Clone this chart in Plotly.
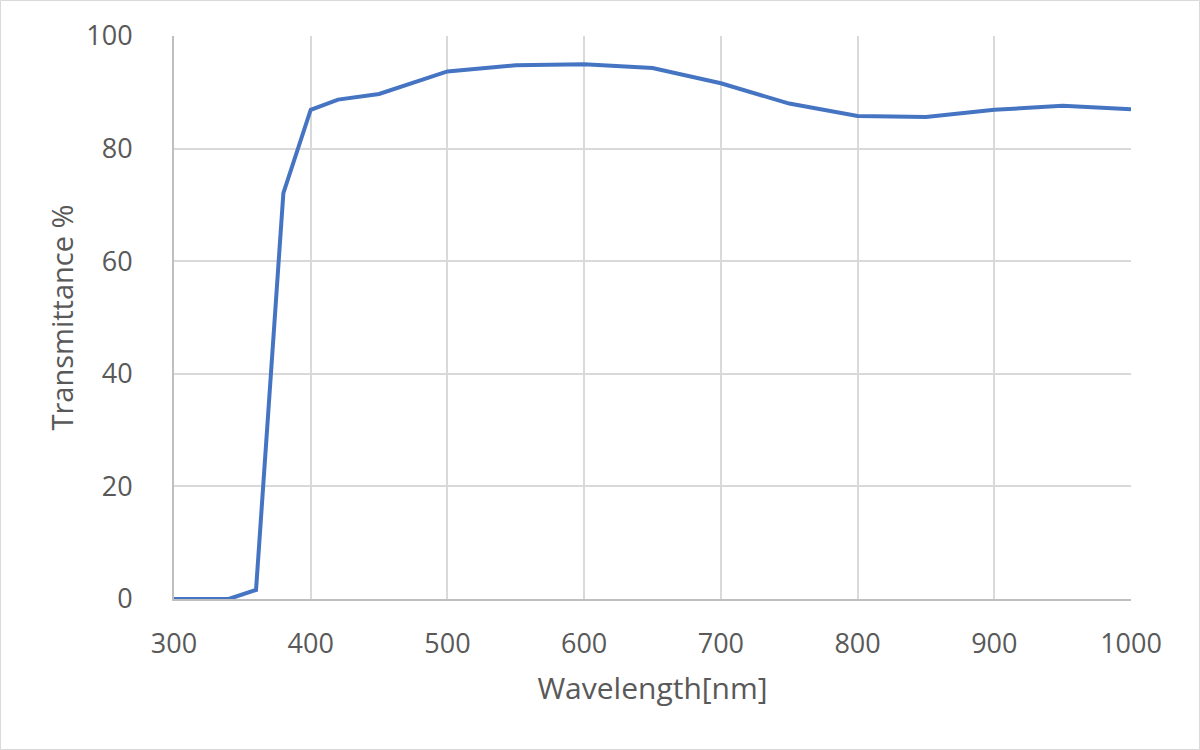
import plotly.graph_objects as go

wavelength = [300, 340, 360, 380, 400, 420, 450, 500, 550, 600, 650, 700, 750, 800, 850, 900, 950, 1000]
transmittance = [0, 0, 1.6, 72.1, 86.9, 88.7, 89.7, 93.7, 94.8, 95.0, 94.3, 91.6, 88.0, 85.8, 85.6, 86.9, 87.6, 87.0]

x_ticks = [300, 400, 500, 600, 700, 800, 900, 1000]
y_ticks = [0, 20, 40, 60, 80, 100]

W, H = 1200, 750
L, R, T, B = 174, 69, 36, 151
pw, ph = W - L - R, H - T - B

font_family = "Open Sans, sans-serif"
txt = "#595959"

fig = go.Figure()
fig.add_trace(go.Scatter(
    x=wavelength, y=transmittance, mode="lines",
    line=dict(color="#4575C2", width=4),
    showlegend=False, hoverinfo="x+y",
))

fig.update_layout(
    width=W, height=H,
    margin=dict(l=L, r=R, t=T, b=B, pad=0),
    paper_bgcolor="white", plot_bgcolor="white",
    font=dict(family=font_family, color=txt, size=28),
    xaxis=dict(
        range=[300, 1000], tickvals=x_ticks, ticktext=[str(v) for v in x_ticks],
        showgrid=True, gridcolor="#d9d9d9", gridwidth=2,
        showline=True, linecolor="#bfbfbf", linewidth=2,
        zeroline=False, ticks="outside", ticklen=20, tickcolor="rgba(0,0,0,0)",
        tickfont=dict(size=27, color=txt),
        title=dict(text="Wavelength[nm]", font=dict(size=30, color=txt), standoff=18),
        fixedrange=True,
    ),
    yaxis=dict(
        range=[0, 100], tickvals=y_ticks, ticktext=[str(v) for v in y_ticks],
        showgrid=True, gridcolor="#d9d9d9", gridwidth=2,
        showline=True, linecolor="#bfbfbf", linewidth=2,
        zeroline=False, ticks="outside", ticklen=34, tickcolor="rgba(0,0,0,0)",
        tickfont=dict(size=27, color=txt),
        title=dict(text="Transmittance %", font=dict(size=29, color=txt), standoff=4),
        fixedrange=True,
    ),
)

# outer chart border
fig.add_shape(
    type="rect", xref="paper", yref="paper",
    x0=(-L + 0.5) / pw, x1=(pw + R - 0.5) / pw,
    y0=(-B + 0.5) / ph, y1=(ph + T - 0.5) / ph,
    line=dict(color="#d9d9d9", width=1), fillcolor="rgba(0,0,0,0)", layer="below",
)

fig.write_html("out.html", config={"displayModeBar": False},
               post_script="document.body.style.margin='0';")
